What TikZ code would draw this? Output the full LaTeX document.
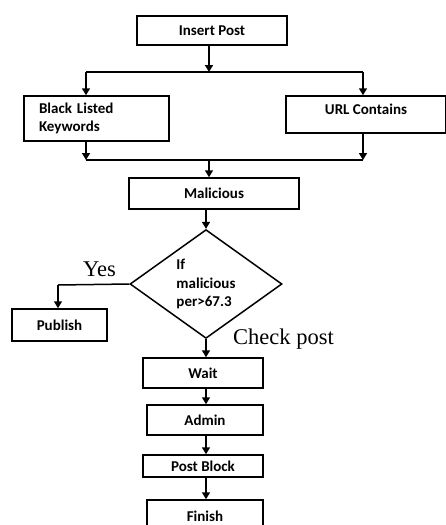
\documentclass[tikz,border=0pt]{standalone}
\usepackage{fontspec}
\setmainfont{Liberation Serif}
\newfontfamily\boxfont{Carlito}
\usetikzlibrary{arrows.meta,shapes.geometric,positioning,calc}
\tikzset{
  stepbox/.style={draw, line width=1.5pt, inner sep=0pt, font=\boxfont\bfseries\fontsize{15}{18.5}\selectfont},
  decide/.style={draw, diamond, line width=1.5pt, inner sep=0pt, align=left, font=\boxfont\bfseries\fontsize{15}{18.5}\selectfont},
  edgeln/.style={black, line width=1.5pt},
  edgear/.style={black, line width=1.5pt, -{Triangle[length=7pt,width=8pt]}},
  lbl/.style={font=\fontsize{22.5}{24}\selectfont, inner sep=0pt}
}

\begin{document}
\begin{tikzpicture}[x=1pt, y=-1pt]
\useasboundingbox (0,0) rectangle (445,525);
\node[stepbox, minimum width=150, minimum height=29] (ins) at (212,30.5) {Insert Post};
\node[stepbox, minimum width=145, minimum height=45, align=left, text width=115] (blk) at (96.5,118.5) {Black Listed\\Keywords};
\node[stepbox, minimum width=160, minimum height=37, text depth=10pt] (url) at (366,114.5) {URL Contains};
\node[stepbox, minimum width=170, minimum height=31] (mal) at (214,193.5) {Malicious};
\node[decide, minimum width=152, minimum height=108] (dia) at (206,284) {If\\malicious\\per>67.3};
\node[stepbox, minimum width=95, minimum height=32] (pub) at (59.5,325) {Publish};
\node[stepbox, minimum width=120, minimum height=30] (wait) at (203,373) {Wait};
\node[stepbox, minimum width=116, minimum height=30] (adm) at (205,420) {Admin};
\node[stepbox, minimum width=120, minimum height=22] (pblk) at (203,466) {Post Block};
\node[stepbox, minimum width=116, minimum height=32] (fin) at (205,516) {Finish};
\node[lbl, anchor=base west] (yes) at (83,276) {Yes};
\node[lbl, anchor=base west] (chk) at (233,344) {Check post};
\coordinate (splt) at (209,72);
\coordinate (lsp) at (86,72);
\coordinate (rsp) at (363,72);
\coordinate (mrg) at (209,160);
\coordinate (lmg) at (86,160);
\coordinate (rmg) at (363,160);
\coordinate (turn) at (58,285);
\draw[edgear] (ins.south -| splt) -- (splt);
\draw[edgeln] (lsp) -- (rsp);
\draw[edgear] (lsp) -- (lsp |- blk.north);
\draw[edgear] (rsp) -- (rsp |- url.north);
\draw[edgear] (lmg |- blk.south) -- (lmg);
\draw[edgear] (rmg |- url.south) -- (rmg);
\draw[edgeln] (lmg) -- (rmg);
\draw[edgear] (mrg) -- (mrg |- mal.north);
\draw[edgear] (mal.south -| dia.north) -- (dia.north);
\draw[edgeln] (dia.west) -- (turn);
\draw[edgear] (turn) -- (turn |- pub.north);
\draw[edgear] (dia.south) -- (dia.south |- wait.north);
\draw[edgear] (wait.south -| dia.south) -- (adm.north -| dia.south);
\draw[edgear] (adm.south -| dia.south) -- (pblk.north -| dia.south);
\draw[edgear] (pblk.south -| dia.south) -- (fin.north -| dia.south);
\end{tikzpicture}
\end{document}
